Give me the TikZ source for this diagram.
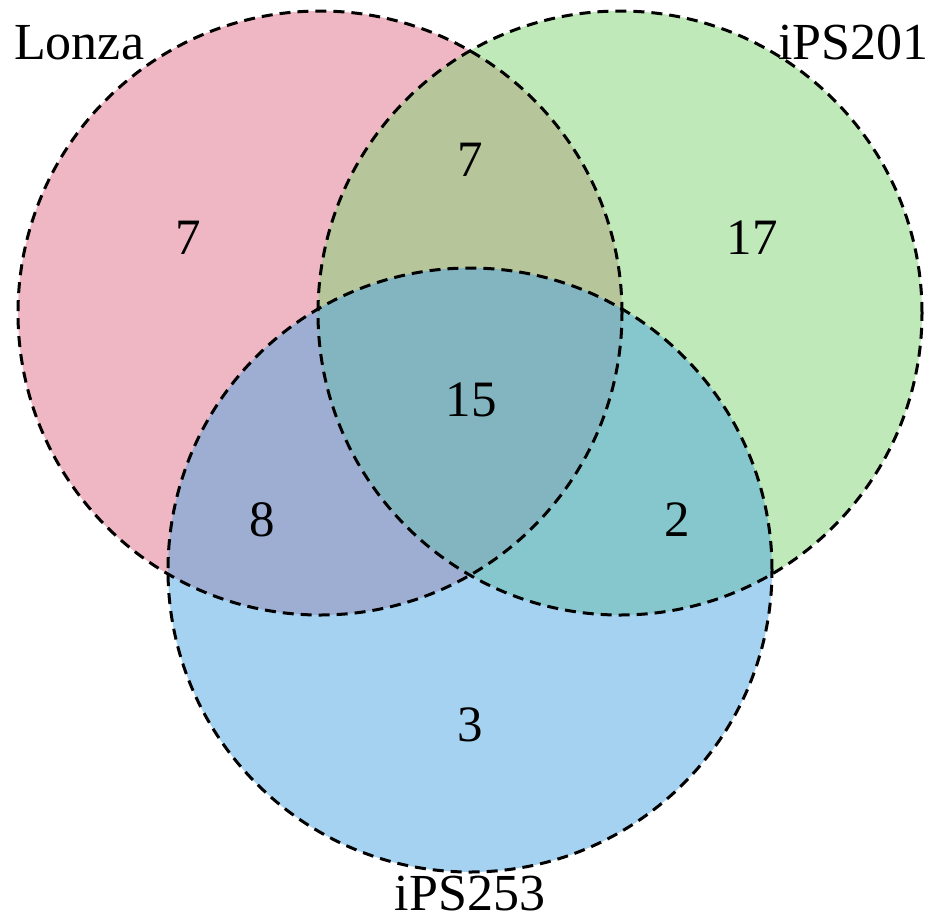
\documentclass[tikz,border=0pt]{standalone}
\usepackage{fontspec}
\setmainfont{Liberation Serif}
\definecolor{lonzac}{RGB}{225,113,137}
\definecolor{ipsAc}{RGB}{129,213,115}
\definecolor{ipsBc}{RGB}{78,166,228}
\tikzset{
  setedge/.style={line width=3pt, dash pattern=on 11pt off 7pt},
  countlbl/.style={inner sep=0pt, font=\fontsize{51}{51}\selectfont},
  setlbl/.style={inner sep=0pt, font=\fontsize{52}{52}\selectfont}
}
\begin{document}
\begin{tikzpicture}[x=1pt,y=-1pt]
\useasboundingbox (0,0) rectangle (935,914);
\fill[white] (0,0) rectangle (935,914);
\coordinate (cL) at (320,313);
\coordinate (cA) at (620,313);
\coordinate (cB) at (470,570);
\fill[lonzac, fill opacity=0.5] (cL) circle[radius=302pt];
\fill[ipsAc, fill opacity=0.5] (cA) circle[radius=302pt];
\fill[ipsBc, fill opacity=0.5] (cB) circle[radius=302pt];
\draw[setedge] (cL) circle[radius=302pt];
\draw[setedge] (cA) circle[radius=302pt];
\draw[setedge] (cB) circle[radius=302pt];
\node[countlbl] (nL) at (188,238) {7};
\node[countlbl] (nLA) at (470,160) {7};
\node[countlbl] (nA) at (752,238) {17};
\node[countlbl] (nLAB) at (471,400) {15};
\node[countlbl] (nLB) at (262,520) {8};
\node[countlbl] (nAB) at (677,520) {2};
\node[countlbl] (nB) at (470,725) {3};
\node[setlbl, anchor=base west] (tL) at (14,59) {Lonza};
\node[setlbl, anchor=base east] (tA) at (929,59) {iPS201};
\node[setlbl, anchor=base] (tB) at (470,910) {iPS253};
\end{tikzpicture}
\end{document}
